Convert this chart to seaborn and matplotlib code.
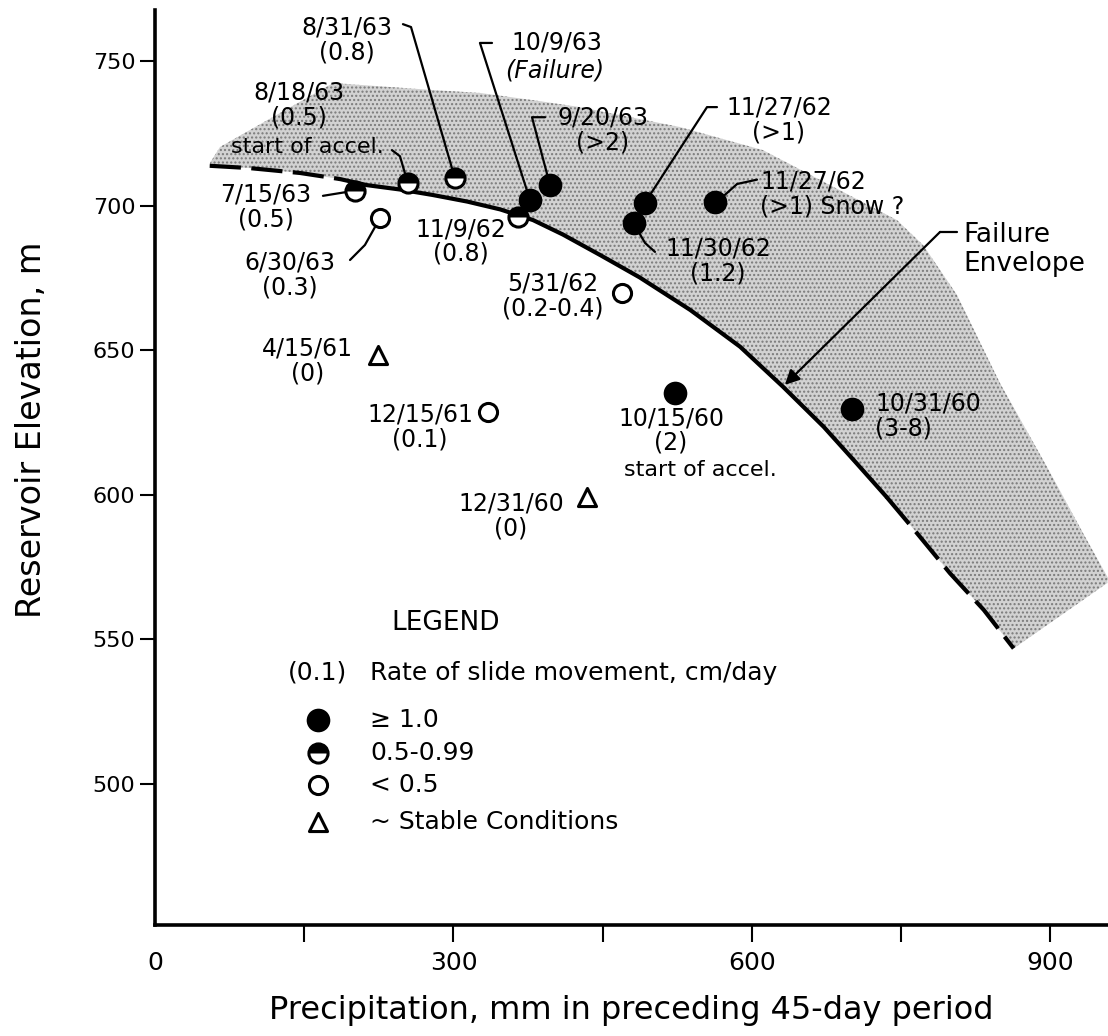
import numpy as np
import pandas as pd
import matplotlib
matplotlib.use("Agg")
import matplotlib.pyplot as plt
from matplotlib.path import Path
import seaborn as sns

# ---------------- data ----------------
dates = ['7/15/63', '8/18/63', '8/31/63', '11/9/62', '10/9/63', '9/20/63',
         '11/27/62', '11/30/62', '11/27/62', '10/15/60', '10/31/60',
         '6/30/63', '5/31/62', '12/15/61', '4/15/61', '12/31/60']
precip = [201, 254, 301.5, 365, 377, 397, 492, 481, 563, 523, 701,
          226, 469, 335, 224, 434]
elevation = [705.2, 707.9, 709.4, 696.2, 701.8, 707.1, 700.8, 693.9, 701.4,
             635.1, 629.5, 695.6, 669.7, 628.7, 648.3, 599.3]
rates = ['(0.5)', '(0.5)', '(0.8)', '(0.8)', '(Failure)', '(>2)', '(>1)',
         '(1.2)', '(>1) Snow ?', '(2)', '(3-8)', '(0.3)', '(0.2-0.4)',
         '(0.1)', '(0)', '(0)']
classes = ['half'] * 4 + ['full'] * 7 + ['open'] * 3 + ['stable'] * 2

# failure envelope (lower edge of the band)
env_precip = [55, 95, 146, 186, 213, 246, 279, 314, 347, 380, 410, 448, 487,
              538, 588, 631, 672, 705, 735, 766, 799, 833, 863]
env_elev = [713.8, 713.0, 711.3, 709.2, 707.1, 705.6, 703.7, 701.4, 698.7,
            695.0, 690.0, 682.8, 675.2, 663.9, 651.2, 637.4, 623.5, 610.9,
            599.3, 586.6, 572.8, 560.1, 546.8]
# upper edge of the shaded band
band_top_precip = [55.3, 65.3, 118.6, 179, 193, 279.4, 326.6, 379.9, 427.1,
                   527.6, 611.1, 678.4, 745.7, 771.9, 806.0, 849.2, 896.5,
                   932.7, 957.8]
band_top_elev = [714.8, 720.3, 730.7, 742.4, 742.1, 740.0, 739.0, 736.5,
                 734.1, 727.2, 719.2, 707.1, 695.0, 686.4, 669.1, 638.6,
                 609.6, 586.7, 571.2]
band_end_precip = [957.0]
band_end_elev = [569.4]

x_ticks = [0, 150, 300, 450, 600, 750, 900]
x_ticklabels = ['0', '', '300', '', '600', '', '900']
y_ticks = [500, 550, 600, 650, 700, 750]

legend_labels = ['\u2265 1.0', '0.5-0.99', '< 0.5', '~ Stable Conditions']
legend_classes = ['full', 'half', 'open', 'stable']

df = pd.DataFrame({'date': dates, 'precip': precip, 'elev': elevation,
                   'rate': rates, 'cls': classes})

# ---------------- layout (label placement, not data) ----------------
label_pos = {
    0: (111.6, 699.5, 'center'),
    1: (144.2, 734.8, 'center'),
    2: (193.0, 757.3, 'center'),
    3: (307.5, 687.6, 'center'),
    5: (450.0, 726.2, 'center'),
    6: (627.0, 729.6, 'center'),
    7: (565.8, 680.7, 'center'),
    8: (608.0, 704.0, 'left'),
    9: (518.6, 622.2, 'center'),
    10: (723.6, 627.2, 'left'),
    11: (135.7, 676.0, 'center'),
    12: (400.0, 668.6, 'center'),
    13: (266.3, 623.4, 'center'),
    14: (153.3, 646.4, 'center'),
    15: (357.8, 592.6, 'center'),
}
leaders = {
    0: [(168.8, 703.4)],
    1: [(238.2, 719.2), (246.2, 717.1)],
    2: [(249.2, 762.8), (257.3, 761.8)],
    4: [(338.7, 756.3), (326.6, 756.3)],
    5: [(392.0, 730.6), (378.9, 730.6)],
    6: [(564.8, 734.1), (554.8, 734.1)],
    7: [(502.5, 684.0), (492.5, 687.1)],
    8: [(605.0, 709.0), (585.0, 707.5), (572.0, 703.5)],
    11: [(196.0, 681.2), (211.0, 686.4)],
}

sns.set_style('ticks')
plt.rcParams['font.family'] = ['DejaVu Sans']
for key in ['text.color', 'axes.labelcolor', 'xtick.color', 'ytick.color',
            'axes.edgecolor']:
    plt.rcParams[key] = 'black'

fig = plt.figure(figsize=(11.08, 10.36), dpi=100)
ax = fig.add_axes([155 / 1108, 111 / 1036, 953 / 1108, 915 / 1036])
ax.set_xlim(0, 957.8)
ax.set_ylim(451.1, 767.7)

# shaded band
poly_x = env_precip + band_end_precip + band_top_precip[::-1]
poly_y = env_elev + band_end_elev + band_top_elev[::-1]
ax.fill(poly_x, poly_y, facecolor='#d2d2d2', edgecolor='#7a7a7a',
        hatch='....', linewidth=0, zorder=1)

# failure envelope: dashed ends, solid middle
sns.lineplot(x=env_precip[:4], y=env_elev[:4], ax=ax, color='black', lw=3,
             dashes=(7.5, 2.5), sort=False, zorder=2)
sns.lineplot(x=env_precip[3:19], y=env_elev[3:19], ax=ax, color='black', lw=3,
             sort=False, zorder=2)
sns.lineplot(x=env_precip[18:], y=env_elev[18:], ax=ax, color='black', lw=3,
             dashes=(8.5, 2.5), sort=False, zorder=2)

# leader lines
for i, pts in leaders.items():
    xs = [p[0] for p in pts] + [precip[i]]
    ys = [p[1] for p in pts] + [elevation[i]]
    ax.plot(xs, ys, color='black', lw=1.6, zorder=2.5)

# markers
t = np.linspace(0, np.pi, 60)
arc = np.column_stack([np.cos(t), np.sin(t)])
top_half = Path(np.vstack([arc, arc[:1]]), closed=True)


def draw_markers(sub, cls, ax):
    if cls == 'full':
        sns.scatterplot(data=sub, x='precip', y='elev', ax=ax, marker='o',
                        s=290, color='black', edgecolor='black', linewidth=0,
                        zorder=4)
    elif cls == 'open':
        sns.scatterplot(data=sub, x='precip', y='elev', ax=ax, marker='o',
                        s=170, color='white', edgecolor='black', linewidth=2.2,
                        zorder=4)
    elif cls == 'half':
        sns.scatterplot(data=sub, x='precip', y='elev', ax=ax, marker='o',
                        s=190, color='white', edgecolor='black', linewidth=2.2,
                        zorder=4)
        sns.scatterplot(data=sub, x='precip', y='elev', ax=ax, marker=top_half,
                        s=190, color='black', edgecolor='black', linewidth=0,
                        zorder=5)
    else:
        sns.scatterplot(data=sub, x='precip', y='elev', ax=ax, marker='^',
                        s=170, color='white', edgecolor='black', linewidth=2.2,
                        zorder=4)


for cls in ['full', 'open', 'half', 'stable']:
    draw_markers(df[df.cls == cls], cls, ax)

# point labels
fs = 17
for i, (lx, ly, ha) in label_pos.items():
    ax.text(lx, ly, dates[i] + '\n' + rates[i], ha=ha, va='center',
            multialignment=ha, fontsize=fs, linespacing=1.05, zorder=6)
ax.text(404, 756.3, dates[4], ha='center', va='center', fontsize=fs, zorder=6)
ax.text(402, 746.9, rates[4], ha='center', va='center', fontsize=fs,
        style='italic', zorder=6)
ax.text(152.8, 720.3, 'start of accel.', ha='center', va='center',
        fontsize=fs - 1, zorder=6)
ax.text(547.7, 608.5, 'start of accel.', ha='center', va='center',
        fontsize=fs - 1, zorder=6)

# failure envelope label and arrow
ax.text(812, 685, 'Failure\nEnvelope', ha='left', va='center',
        multialignment='left', fontsize=19, linespacing=1.15)
ax.plot([806, 789], [690.9, 690.9], color='black', lw=1.6)
ax.annotate('', xy=(633.0, 638.0), xytext=(789, 690.9),
            arrowprops=dict(arrowstyle='-|>', lw=1.6, color='black',
                            mutation_scale=22, shrinkA=0, shrinkB=0))

# legend block
leg_x, txt_x = 163.8, 216.1
leg_y = [522.0, 510.6, 499.6, 486.8]
ax.text(292.5, 555.6, 'LEGEND', ha='center', va='center', fontsize=19)
ax.text(leg_x, 538.3, '(0.1)', ha='center', va='center', fontsize=18)
ax.text(txt_x, 538.3, 'Rate of slide movement, cm/day', ha='left',
        va='center', fontsize=18)
for lab, cls, yy in zip(legend_labels, legend_classes, leg_y):
    draw_markers(pd.DataFrame({'precip': [leg_x], 'elev': [yy]}), cls, ax)
    ax.text(txt_x, yy, lab, ha='left', va='center', fontsize=18)

# axes styling
ax.spines['top'].set_visible(False)
ax.spines['right'].set_visible(False)
for sp in ['left', 'bottom']:
    ax.spines[sp].set_linewidth(2.6)
ax.set_xticks(x_ticks)
ax.set_xticklabels(x_ticklabels)
ax.set_yticks(y_ticks)
ax.tick_params(axis='x', direction='out', length=12, width=1.5, pad=7,
               labelsize=18)
ax.tick_params(axis='y', direction='out', length=11, width=1.5, pad=3,
               labelsize=16)
ax.xaxis.get_major_ticks()[0].tick1line.set_visible(False)
ax.set_xlabel('Precipitation, mm in preceding 45-day period', fontsize=23,
              labelpad=14)
ax.set_ylabel('Reservoir Elevation, m', fontsize=24)
ax.yaxis.set_label_coords(-0.112, 0.541)

fig.savefig('out.png', dpi=100, facecolor='white')
